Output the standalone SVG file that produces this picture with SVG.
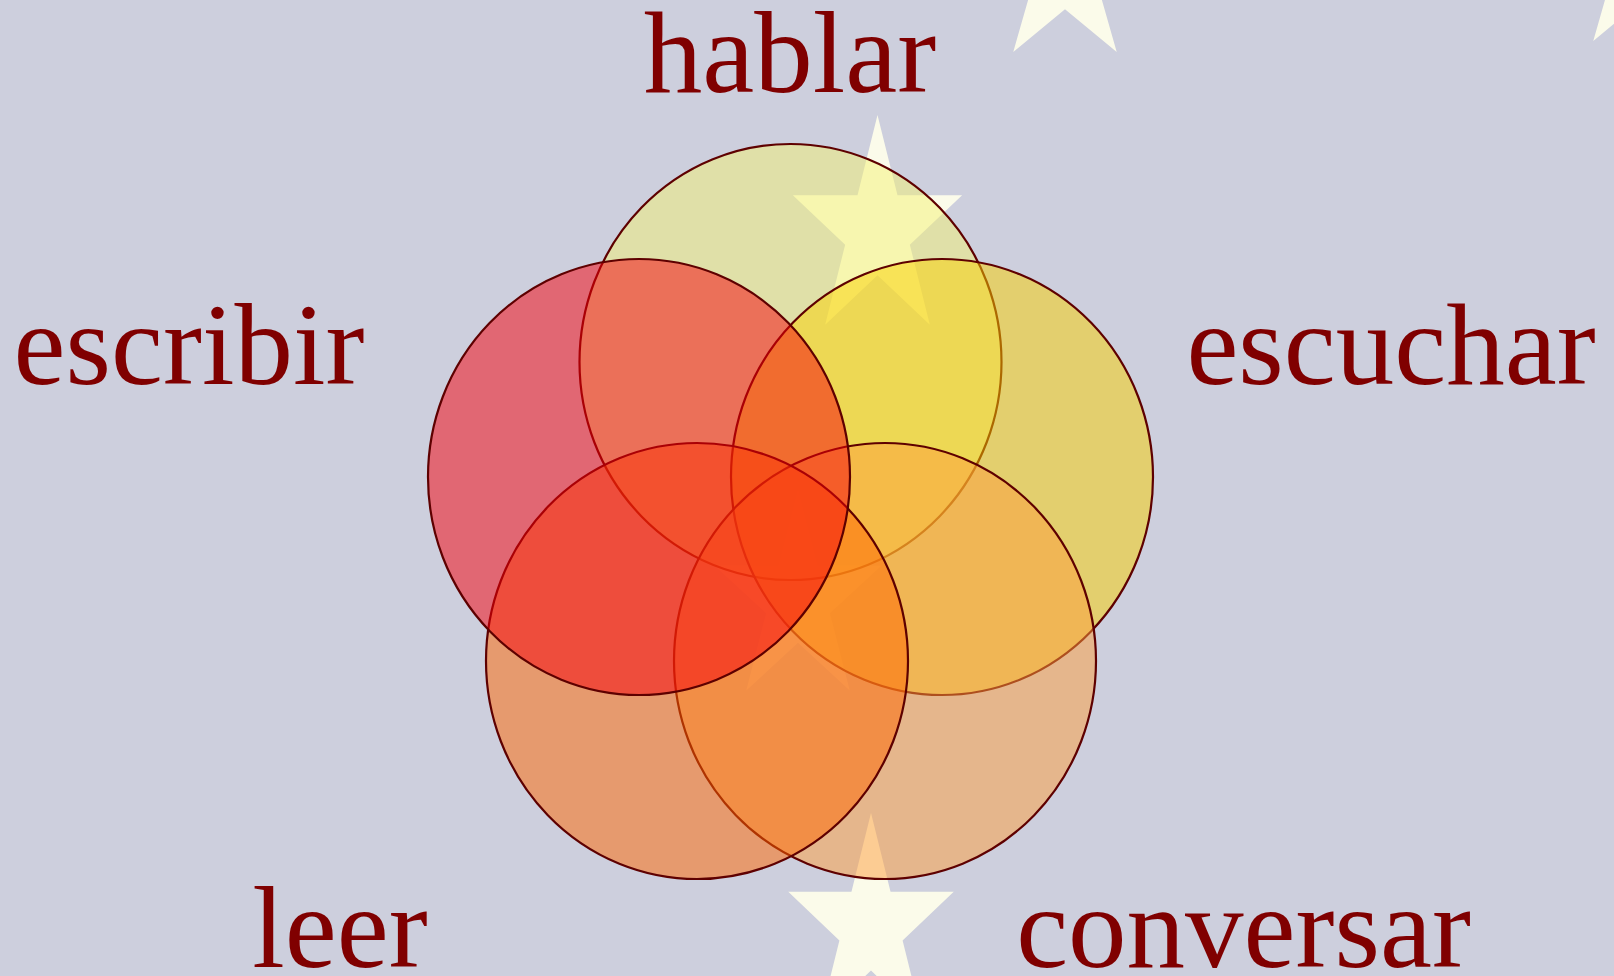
<svg xmlns="http://www.w3.org/2000/svg" xmlns:xlink="http://www.w3.org/1999/xlink" width="1614" height="976" viewBox="0 0 1614 976">
<style>
.c{stroke:#5e0000;stroke-width:2.2;fill-opacity:0.5}
.t{font-family:"Liberation Serif","Times New Roman",serif;font-size:117px;fill:#800000;text-anchor:middle}
.s{fill:#fbfbea}
</style>
<defs>
<path id="star" d="M0,-1 L0.2245,-0.309 L0.951,-0.309 L0.3633,0.118 L0.5878,0.809 L0,0.382 L-0.5878,0.809 L-0.3633,0.118 L-0.951,-0.309 L-0.2245,-0.309 Z"/>
</defs>
<rect x="0" y="0" width="1614" height="976" fill="#cdcfdd"/>
<g id="background-stars">
<use xlink:href="#star" href="#star" class="s" transform="translate(1065,-29) scale(88,100)"/>
<use xlink:href="#star" href="#star" class="s" transform="translate(1645,-40) scale(88,100)"/>
<use xlink:href="#star" href="#star" class="s" transform="translate(877.5,231) scale(89,116)"/>
<use xlink:href="#star" href="#star" class="s" transform="translate(871,927) scale(87,114)"/>
<use xlink:href="#star" href="#star" class="s" opacity="0.5" transform="translate(798,600) scale(88,112)"/>
</g>
<g id="hablar"><ellipse class="c" cx="790.5" cy="362" rx="211" ry="218" fill="#f3f173"/><text class="t" x="790" y="92">hablar</text></g>
<g id="escuchar"><ellipse class="c" cx="942" cy="477" rx="211" ry="218" fill="#f9cf00"/><text class="t" x="1391" y="384">escuchar</text></g>
<g id="conversar"><ellipse class="c" cx="885" cy="661" rx="211" ry="218" fill="#fd9d3b"/><text class="t" x="1243.5" y="967">conversar</text></g>
<g id="leer"><ellipse class="c" cx="697" cy="661" rx="211" ry="218" fill="#ff6500"/><text class="t" x="340" y="967">leer</text></g>
<g id="escribir"><ellipse class="c" cx="639" cy="477" rx="211" ry="218" fill="#f5000a"/><text class="t" x="189" y="384">escribir</text></g>
<g id="connectors"/>
</svg>
